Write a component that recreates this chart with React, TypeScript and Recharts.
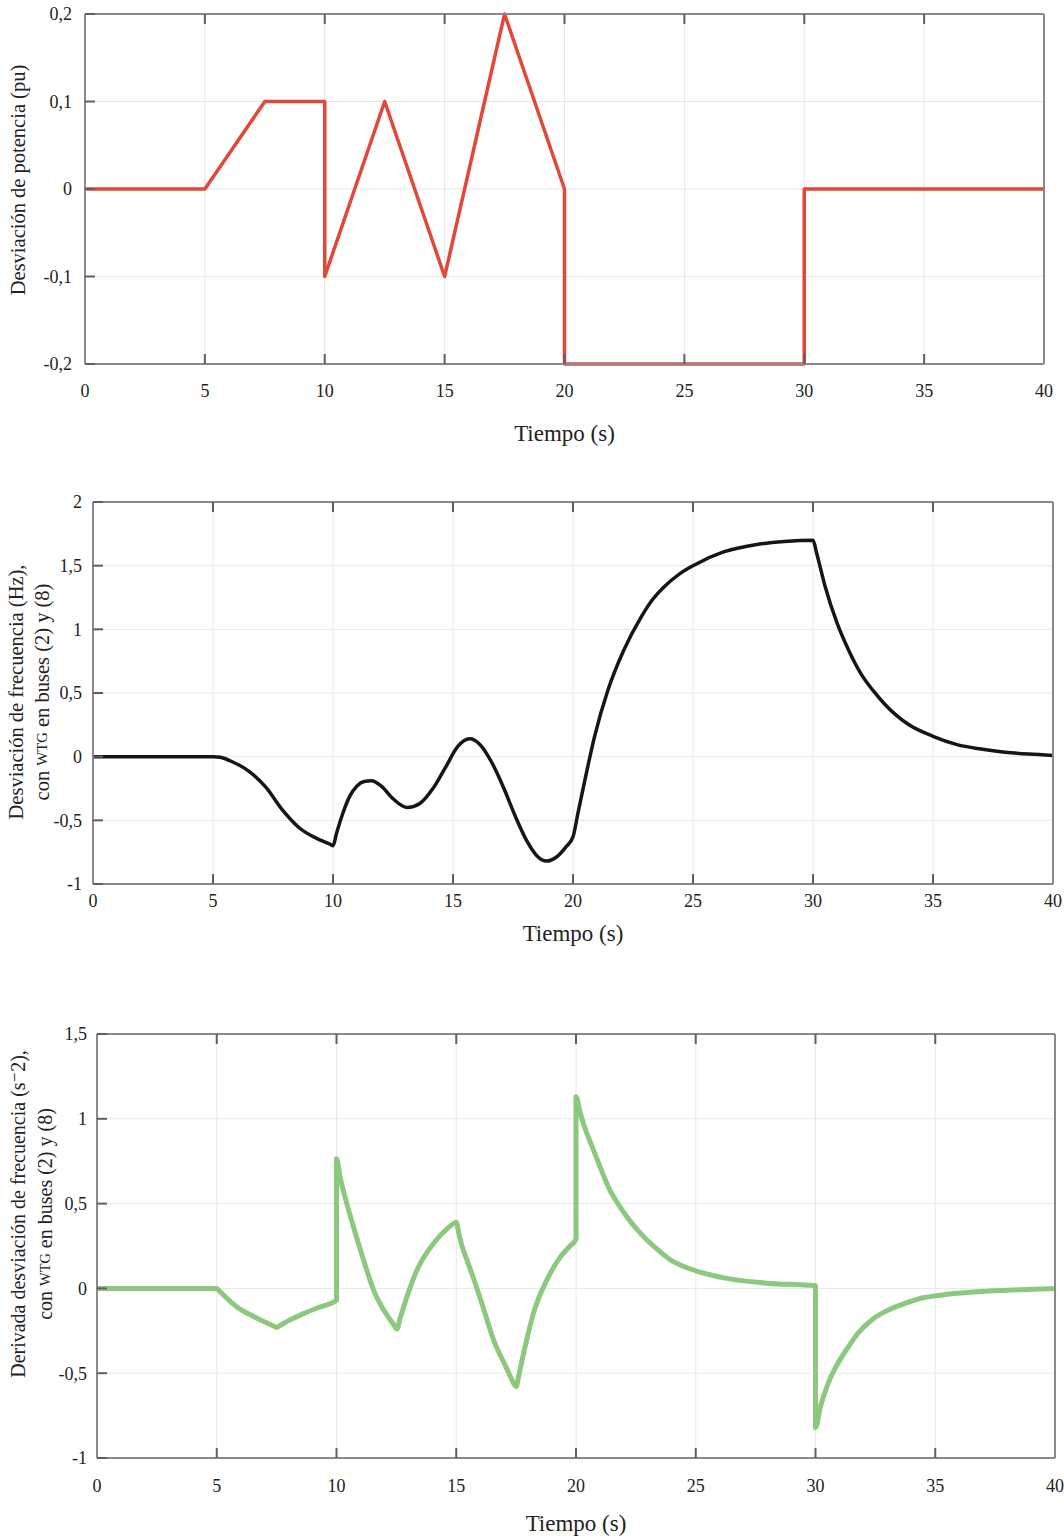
import { LineChart, Line, XAxis, YAxis, CartesianGrid } from 'recharts';

// time ticks shared by the three panels
const timeTicks = [0, 5, 10, 15, 20, 25, 30, 35, 40];

// panel 1: power deviation (pu)
const powerT = [0, 5, 7.5, 10, 10, 12.5, 15, 17.5, 20, 20, 30, 30, 40];
const powerV = [0, 0, 0.1, 0.1, -0.1, 0.1, -0.1, 0.2, 0, -0.2, -0.2, 0, 0];
const powerTicks = [-0.2, -0.1, 0, 0.1, 0.2];

// panel 2: frequency deviation (Hz)
const freqT = [
  0, 5, 5.3, 5.8, 6.5, 7.2, 7.9, 8.6, 9.3, 9.9, 10, 10.15, 10.4, 10.7, 11.0, 11.3, 11.6,
  12.0, 12.5, 13.1, 13.6, 14.2, 14.7, 15.2, 15.7, 16.1, 16.6, 17.1, 17.6, 18.1, 18.5, 18.9,
  19.3, 19.7, 20, 20.2, 20.5, 20.9, 21.45, 22.1, 22.85, 23.3, 23.8, 24.4, 25, 26.3, 27.6, 28.8, 30,
  30.15, 30.5, 31, 31.5, 32, 32.5, 33, 33.5, 34, 35, 36, 37, 38, 39, 40,
];
const freqV = [
  0, 0, -0.005, -0.04, -0.115, -0.24, -0.42, -0.56, -0.64, -0.69, -0.7, -0.6, -0.45, -0.31, -0.23, -0.195, -0.19,
  -0.23, -0.33, -0.4, -0.37, -0.24, -0.08, 0.08, 0.14, 0.1, -0.04, -0.24, -0.47, -0.67, -0.78, -0.82,
  -0.79, -0.71, -0.63, -0.45, -0.18, 0.16, 0.52, 0.83, 1.1, 1.23, 1.335, 1.43, 1.5, 1.61, 1.665, 1.69, 1.7,
  1.6, 1.34, 1.05, 0.83, 0.65, 0.52, 0.41, 0.32, 0.25, 0.16, 0.095, 0.06, 0.035, 0.02, 0.01,
];
const freqTicks = [-1, -0.5, 0, 0.5, 1, 1.5, 2];

// panel 3: derivative of the frequency deviation
const derivT = [
  0, 5, 5.1, 5.8, 6.6, 7.35, 7.5, 7.65, 8.0, 8.6, 9.3, 10, 10, 10.15, 10.43, 10.71, 11.13, 11.55,
  11.97, 12.4, 12.52, 12.65, 12.94, 13.36, 14.05, 14.6, 14.9, 15, 15.1, 15.2, 15.44, 15.72,
  16.14, 16.55, 17.1, 17.4, 17.5, 17.6, 17.88, 18.22, 18.78, 19.35, 19.75, 20, 20, 20.15, 20.3, 20.72,
  21.05, 21.4, 21.75, 22.1, 22.5, 22.93, 23.4, 23.9, 24.4, 25, 26.3, 27.97, 30, 30, 30.2, 30.5,
  30.9, 31.3, 31.8, 32.4, 33, 33.7, 34.5, 35.5, 37, 38.5, 40,
];
const derivV = [
  0, 0, -0.014, -0.105, -0.17, -0.22, -0.23, -0.218, -0.19, -0.15, -0.11, -0.07, 0.765, 0.657, 0.5, 0.362, 0.167, -0.01,
  -0.128, -0.216, -0.24, -0.18, -0.05, 0.108, 0.265, 0.35, 0.383, 0.39, 0.33, 0.27, 0.17, 0.06,
  -0.12, -0.3, -0.47, -0.56, -0.58, -0.52, -0.34, -0.147, 0.049, 0.186, 0.25, 0.29, 1.13, 1.05, 0.976, 0.82,
  0.7, 0.584, 0.5, 0.427, 0.355, 0.29, 0.23, 0.172, 0.135, 0.104, 0.059, 0.031, 0.015, -0.82, -0.7, -0.57,
  -0.45, -0.36, -0.26, -0.18, -0.13, -0.09, -0.055, -0.035, -0.018, -0.008, 0,
];
const derivTicks = [-1, -0.5, 0, 0.5, 1, 1.5];

const FONT = '"Liberation Serif", "DejaVu Serif", serif';
const FRAME = '#8a8a8a';
const TICK = '#5f5f5f';
const GRID = '#e6e8e8';

const fmt = (v: number) => String(v).replace('.', ',');
const zip = (t: number[], v: number[]) => t.map((x, i) => ({ t: x, v: v[i] }));
const NoLabel = () => <g />;

interface PanelProps {
  top: number;
  height: number;
  margin: { top: number; right: number; bottom: number; left: number };
  xAxisHeight: number;
  data: { t: number; v: number }[];
  yTicks: number[];
  color: string;
  strokeWidth: number;
  curve: 'linear' | 'monotone';
  xTickMargin: number;
  yTickMargin: number;
  xTitleOffset: number;
  yLabel: string[];
  yLabelX: number[];
  yLabelShift: number;
  yLabelSize: number;
}

function YTitle({ viewBox, lines, xs, shift, size }: any) {
  const cy = viewBox ? viewBox.y + viewBox.height / 2 + shift : 0;
  return (
    <g>
      {lines.map((line: string, i: number) => {
        const parts = line.split('WTG');
        return (
          <text
            key={i}
            x={xs[i]}
            y={cy}
            transform={`rotate(-90, ${xs[i]}, ${cy})`}
            textAnchor="middle"
            dominantBaseline="central"
            fontFamily={FONT}
            fontSize={size}
            fill="#222"
          >
            {parts.length > 1 ? (
              <>
                {parts[0]}
                <tspan fontSize={size * 0.72}>WTG</tspan>
                {parts[1]}
              </>
            ) : (
              line
            )}
          </text>
        );
      })}
    </g>
  );
}

function Panel(p: PanelProps) {
  const xDomain: [number, number] = [0, 40];
  const yDomain: [number, number] = [p.yTicks[0], p.yTicks[p.yTicks.length - 1]];
  return (
    <div style={{ position: 'absolute', left: 0, top: p.top }}>
      <LineChart width={1064} height={p.height} data={p.data} margin={p.margin}>
        <CartesianGrid stroke={GRID} strokeWidth={1} />
        <XAxis
          dataKey="t"
          type="number"
          domain={xDomain}
          ticks={timeTicks}
          allowDataOverflow
          height={p.xAxisHeight}
          tickSize={-10}
          tickMargin={p.xTickMargin}
          axisLine={{ stroke: FRAME, strokeWidth: 2 }}
          tickLine={{ stroke: TICK, strokeWidth: 2 }}
          tick={{ fontFamily: FONT, fontSize: 18, fill: '#222' }}
          label={(lp: any) => {
            const vb = lp.viewBox || { x: 0, y: 0, width: 0 };
            return (
              <text
                x={vb.x + vb.width / 2}
                y={vb.y + p.xTitleOffset}
                textAnchor="middle"
                dominantBaseline="central"
                fontFamily={FONT}
                fontSize={23}
                fill="#222"
              >
                Tiempo (s)
              </text>
            );
          }}
        />
        <XAxis
          xAxisId="top"
          dataKey="t"
          type="number"
          orientation="top"
          domain={xDomain}
          ticks={timeTicks}
          height={1}
          tickSize={-10}
          tick={NoLabel}
          axisLine={{ stroke: FRAME, strokeWidth: 2 }}
          tickLine={{ stroke: TICK, strokeWidth: 2 }}
        />
        <YAxis
          type="number"
          domain={yDomain}
          ticks={p.yTicks}
          width={70}
          tickSize={-10}
          tickMargin={p.yTickMargin}
          tickFormatter={fmt}
          axisLine={{ stroke: FRAME, strokeWidth: 2 }}
          tickLine={{ stroke: TICK, strokeWidth: 2 }}
          tick={{ fontFamily: FONT, fontSize: 18, fill: '#222' }}
          label={(lp: any) => (
            <YTitle
              viewBox={lp.viewBox}
              lines={p.yLabel}
              xs={p.yLabelX}
              shift={p.yLabelShift}
              size={p.yLabelSize}
            />
          )}
        />
        <YAxis
          yAxisId="right"
          orientation="right"
          type="number"
          domain={yDomain}
          ticks={p.yTicks}
          width={1}
          tickSize={-10}
          tick={NoLabel}
          axisLine={{ stroke: FRAME, strokeWidth: 2 }}
          tickLine={{ stroke: TICK, strokeWidth: 2 }}
        />
        <Line
          dataKey="v"
          type={p.curve}
          stroke={p.color}
          strokeWidth={p.strokeWidth}
          strokeLinejoin="round"
          dot={false}
          activeDot={false}
          isAnimationActive={false}
        />
      </LineChart>
    </div>
  );
}

export default function App() {
  return (
    <div
      style={{
        position: 'absolute',
        left: 0,
        top: 0,
        width: 1064,
        height: 1539,
        background: '#fff',
        overflow: 'hidden',
      }}
    >
      <Panel
        top={0}
        height={460}
        margin={{ top: 13, right: 19, bottom: 16, left: 15 }}
        xAxisHeight={80}
        data={zip(powerT, powerV)}
        yTicks={powerTicks}
        color="#e2483a"
        strokeWidth={3.5}
        curve="linear"
        xTickMargin={30}
        yTickMargin={23}
        xTitleOffset={69}
        yLabel={['Desviación de potencia (pu)']}
        yLabelX={[18]}
        yLabelShift={-9}
        yLabelSize={20.5}
      />
      <Panel
        top={480}
        height={480}
        margin={{ top: 21, right: 10, bottom: 16, left: 23 }}
        xAxisHeight={60}
        data={zip(freqT, freqV)}
        yTicks={freqTicks}
        color="#161616"
        strokeWidth={3.5}
        curve="monotone"
        xTickMargin={20}
        yTickMargin={21}
        xTitleOffset={49}
        yLabel={['Desviación de frecuencia (Hz),', 'con WTG en buses (2) y (8)']}
        yLabelX={[16, 42]}
        yLabelShift={-1}
        yLabelSize={20.5}
      />
      <Panel
        top={1000}
        height={539}
        margin={{ top: 33, right: 8, bottom: 11, left: 27 }}
        xAxisHeight={70}
        data={zip(derivT, derivV)}
        yTicks={derivTicks}
        color="#8cc97f"
        strokeWidth={5}
        curve="monotone"
        xTickMargin={31}
        yTickMargin={20}
        xTitleOffset={65}
        yLabel={['Derivada desviación de frecuencia (s\u207B2),', 'con WTG en buses (2) y (8)']}
        yLabelX={[18, 45]}
        yLabelShift={-32}
        yLabelSize={20}
      />
    </div>
  );
}
